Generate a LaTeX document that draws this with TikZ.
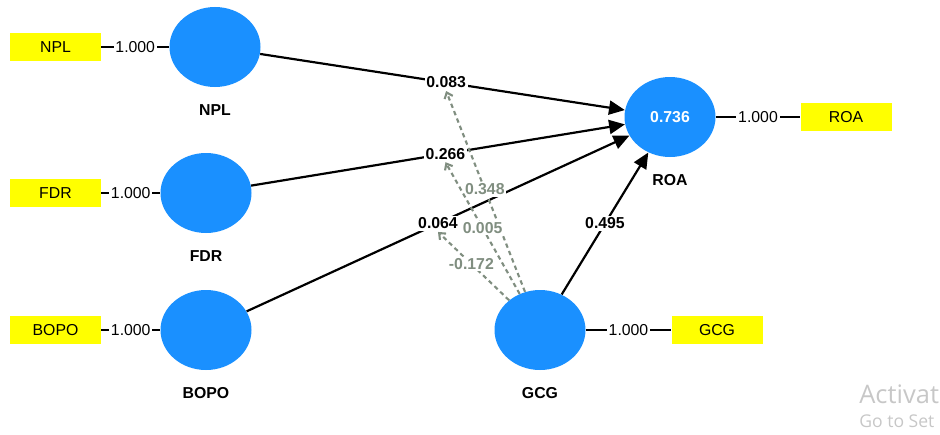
\documentclass[tikz,border=0pt]{standalone}
\usepackage{fontspec}
\setmainfont{Liberation Sans}
\newfontfamily\wmfont{Open Sans}
\usetikzlibrary{shapes.geometric,arrows.meta}
\definecolor{lvblue}{RGB}{26,144,255}
\definecolor{indyellow}{RGB}{255,255,0}
\definecolor{modgray}{RGB}{128,142,128}
\begin{document}
\begin{tikzpicture}[
    latent/.style={ellipse,fill=lvblue,minimum width=1.82cm,minimum height=1.6cm,inner sep=0pt,
        text=white,font=\fontsize{9}{11}\selectfont\bfseries},
    lvname/.style={font=\fontsize{9}{11}\selectfont\bfseries,label distance=0.22cm},
    indicator/.style={rectangle,fill=indyellow,minimum width=1.82cm,minimum height=0.57cm,
        inner sep=0pt,font=\fontsize{9}{11}\selectfont},
    loading/.style={line width=0.6pt},
    loadlbl/.style={fill=white,inner sep=1pt,font=\fontsize{9}{11}\selectfont},
    path/.style={line width=1.25pt,-{Triangle[length=9pt,width=8pt]}},
    coef/.style={fill=white,inner sep=1pt,font=\fontsize{9}{11}\selectfont\bfseries},
    moder/.style={modgray,line width=1.2pt,dash pattern=on 2.5pt off 2pt,
        -{Straight Barb[length=3pt,width=5pt]}},
    modcoef/.style={fill=white,inner sep=1pt,text=modgray,font=\fontsize{9}{11}\selectfont\bfseries},
    watermark/.style={anchor=west,inner sep=0pt,text=black!22}
]
\useasboundingbox (0,0) rectangle (18.8,8.68);

% latent variables
\node[latent,label={[lvname]below:NPL}] (npl) at (4.30,7.74) {};
\node[latent,label={[lvname]below:FDR}] (fdr) at (4.12,4.82) {};
\node[latent,label={[lvname]below:BOPO}] (bopo) at (4.12,2.08) {};
\node[latent,label={[lvname]below:ROA}] (roa) at (13.40,6.34) {0.736};
\node[latent,label={[lvname]below:GCG}] (gcg) at (10.80,2.08) {};

% indicators
\node[indicator] (nplind) at (1.11,7.74) {NPL};
\node[indicator] (fdrind) at (1.11,4.82) {FDR};
\node[indicator] (bopoind) at (1.11,2.08) {BOPO};
\node[indicator] (roaind) at (16.92,6.34) {ROA};
\node[indicator] (gcgind) at (14.34,2.08) {GCG};

\draw[loading] (nplind) -- node[loadlbl] {1.000} (npl);
\draw[loading] (fdrind) -- node[loadlbl] {1.000} (fdr);
\draw[loading] (bopoind) -- node[loadlbl] {1.000} (bopo);
\draw[loading] (roa) -- node[loadlbl] {1.000} (roaind);
\draw[loading] (gcg) -- node[loadlbl] {1.000} (gcgind);

% structural paths
\draw[path] (npl) -- node[coef,pos=0.51] (c1) {0.083} (roa);
\draw[path] (fdr) -- node[coef,pos=0.52] (c2) {0.266} (roa);
\draw[path] (bopo) -- node[coef,pos=0.50] (c3) {0.064} (roa);
\draw[path] (gcg) -- node[coef,pos=0.50] (c4) {0.495} (roa);

% moderating effects
\draw[moder] (gcg) -- node[modcoef,pos=0.51] {0.348} (c1.south);
\draw[moder] (gcg) -- node[modcoef,pos=0.50] {0.005} (c2.south);
\draw[moder] (gcg) -- node[modcoef,pos=0.53] {-0.172} (c3.south);

\node[watermark,font=\wmfont\fontsize{14.5}{16}\selectfont] (act) at (17.18,0.80) {Activat};
\node[watermark,font=\wmfont\fontsize{10}{12}\selectfont] (goto) at (17.18,0.26) {Go to Set};
\end{tikzpicture}
\end{document}
